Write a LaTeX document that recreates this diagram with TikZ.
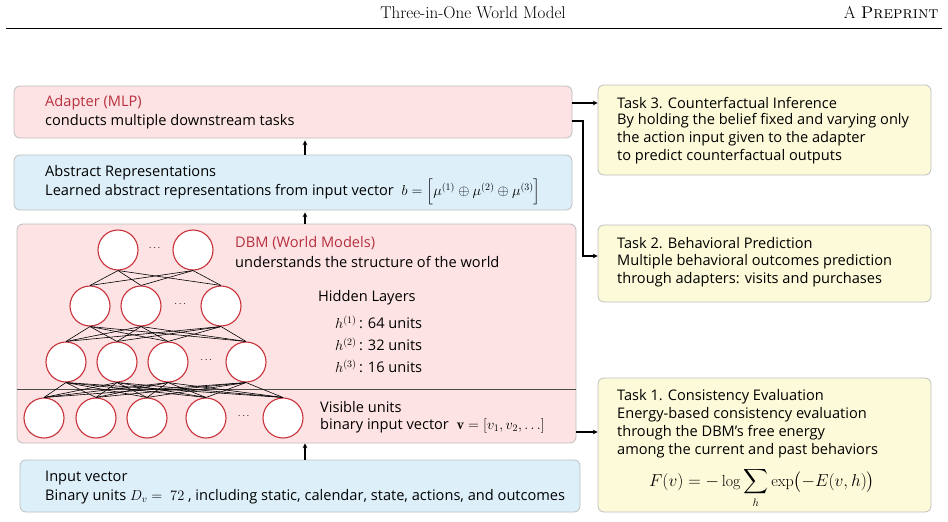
\documentclass[tikz,border=0pt]{standalone}
\usepackage{amsmath}
\usepackage{fontspec}
\setsansfont{Open Sans}
\usetikzlibrary{calc}
\definecolor{pinkbg}{HTML}{FDE3E4}
\definecolor{bluebg}{HTML}{DDF0FA}
\definecolor{yellowbg}{HTML}{FCFAD8}
\definecolor{boxline}{HTML}{BDBDBD}
\definecolor{unitred}{HTML}{C8323A}
\definecolor{titlered}{HTML}{B8303E}
\tikzset{
  panel/.style={draw=boxline,rounded corners=6pt,line width=0.8pt},
  unit/.style={circle,draw=unitred,fill=white,line width=1.1pt,minimum size=40pt,inner sep=0},
  txt/.style={anchor=west,inner sep=0,font=\sffamily\fontsize{14.6}{16}\selectfont},
  flow/.style={->,>=stealth,line width=1.1pt}
}
\def\ds{\displaystyle}

\begin{document}
\begin{tikzpicture}[x=1pt,y=-1pt]
      \useasboundingbox (0,0) rectangle (948,522);

      %header
      \node[font=\fontsize{17}{19}\selectfont] (head) at (473,13) {Three-in-One World Model};
      \node[anchor=east,font=\fontsize{17}{19}\selectfont] (pre) at (942,13) {A \textsc{Preprint}};
      \draw[line width=0.5pt] (6,28) -- (942,28);

      %left column
      \node[panel,fill=pinkbg,minimum width=558,minimum height=52] (adapter) at (293,112) {};
      \node[panel,fill=bluebg,minimum width=558,minimum height=55] (abstract) at (293,182.5) {};
      \node[panel,fill=pinkbg,minimum width=559,minimum height=219] (dbm) at (296.5,333.5) {};
      \node[panel,fill=bluebg,minimum width=560,minimum height=52] (input) at (300,486) {};
      \draw[line width=0.8pt,black!70] (17,389) -- (576,389);

      %right column
      \node[panel,fill=yellowbg,minimum width=333,minimum height=90] (task3) at (764.5,130) {};
      \node[panel,fill=yellowbg,minimum width=333,minimum height=77] (task2) at (764.5,263.5) {};
      \node[panel,fill=yellowbg,minimum width=333,minimum height=134] (task1) at (764.5,445) {};

      %texts
      \node[txt,text=titlered] (adapterT) at (45,103) {Adapter (MLP)};
      \node[txt] (adapterS) at (45,122) {conducts multiple downstream tasks};
      \node[txt] (absT) at (45,173) {Abstract Representations};
      \node[txt] (absS) at (45,192) {Learned abstract representations from input vector\ \ $b=\Big[\mu^{(1)}\oplus\mu^{(2)}\oplus\mu^{(3)}\Big]$};
      \node[txt,text=titlered] (dbmT) at (235,243) {DBM (World Models)};
      \node[txt] (dbmS) at (235,262) {understands the structure of the world};
      \node[txt] (hid) at (318,298) {Hidden Layers};
      \node[txt] (h1) at (335,322) {$h^{(1)}$\,: 64 units};
      \node[txt] (h2) at (335,344) {$h^{(2)}$\,: 32 units};
      \node[txt] (h3) at (335,366) {$h^{(3)}$\,: 16 units};
      \node[txt] (vis) at (320,407) {Visible units};
      \node[txt] (visS) at (320,426) {binary input vector\ \ $\mathbf{v}=[v_1,v_2,\ldots]$};
      \node[txt] (inT) at (45,478) {Input vector};
      \node[txt] (inS) at (45,497) {Binary units $D_v=\ 72$\ , including static, calendar, state, actions, and outcomes};

      \node[txt] (t3T) at (617,103) {Task 3. Counterfactual Inference};
      \node[txt] (t3a) at (617,121) {By holding the belief fixed and varying only};
      \node[txt] (t3b) at (617,139) {the action input given to the adapter};
      \node[txt] (t3c) at (617,157) {to predict counterfactual outputs};
      \node[txt] (t2T) at (617,243) {Task 2. Behavioral Prediction};
      \node[txt] (t2a) at (617,262) {Multiple behavioral outcomes prediction};
      \node[txt] (t2b) at (617,280) {through adapters: visits and purchases};
      \node[txt] (t1T) at (617,397) {Task 1. Consistency Evaluation};
      \node[txt] (t1a) at (617,415) {Energy-based consistency evaluation};
      \node[txt] (t1b) at (617,433) {through the DBM's free energy};
      \node[txt] (t1c) at (617,451) {among the current and past behaviors};
      \node[font=\fontsize{16}{18}\selectfont] (free) at (762,488) {$\ds F(v)=-\log\sum_h\exp\bigl(-E(v,h)\bigr)$};

      %units
      \foreach \x [count=\i] in {118,193} \node[unit] (a\i) at (\x,250) {};
      \foreach \x [count=\i] in {90,141,221} \node[unit] (b\i) at (\x,306) {};
      \foreach \x [count=\i] in {66,117,168,246} \node[unit] (c\i) at (\x,362) {};
      \foreach \x [count=\i] in {44,96,147,206,283} \node[unit] (d\i) at (\x,418) {};
      \node (dotA) at (155.5,248) {$\cdots$};
      \node (dotB) at (181,304) {$\cdots$};
      \node (dotC) at (207,360) {$\cdots$};
      \node (dotD) at (244.5,416) {$\cdots$};

      %connections
      \foreach \i in {1,2} \foreach \j in {1,2,3} \draw[line width=0.6pt] (a\i.south) -- (b\j.north);
      \foreach \i in {1,2,3} \foreach \j in {1,2,3,4} \draw[line width=0.6pt] (b\i.south) -- (c\j.north);
      \foreach \i in {1,2,3,4} \foreach \j in {1,2,3,4,5} \draw[line width=0.6pt] (c\i.south) -- (d\j.north);

      %arrows
      \draw[flow] (input.north -| 305,0) -- (dbm.south -| 305,0);
      \draw[flow] (dbm.north -| 305,0) -- ($(abstract.south -| 305,0)+(0,2)$);
      \draw[flow] (abstract.north -| 305,0) -- ($(adapter.south -| 305,0)+(0,2)$);
      \draw[flow] (adapter.east |- 0,103) -- (task3.west |- 0,103);
      \draw[flow] (adapter.east |- 0,121) -| (583,256) -- (task2.west |- 0,256);
      \draw[flow] (dbm.east |- 0,432) -- (task1.west |- 0,432);

    \end{tikzpicture}
\end{document}
